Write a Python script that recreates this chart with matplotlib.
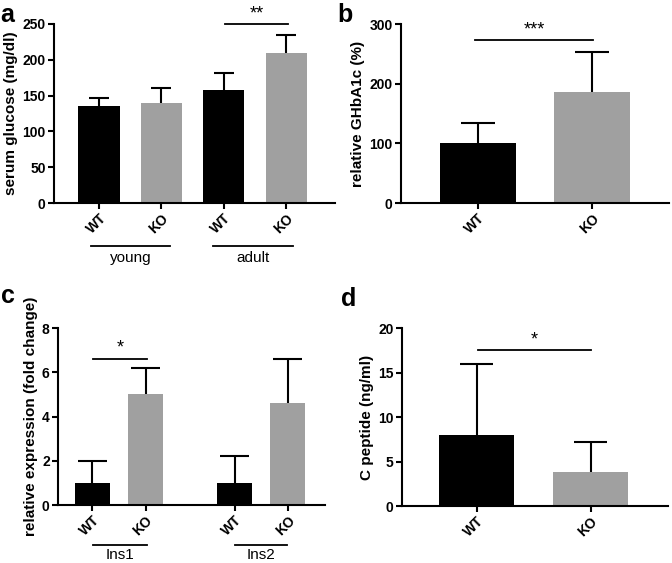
import matplotlib
matplotlib.use("Agg")
import matplotlib.pyplot as plt
import matplotlib.transforms as mtransforms
import numpy as np

plt.rcParams['font.family'] = ['Liberation Sans', 'DejaVu Sans']
plt.rcParams['font.weight'] = 'bold'
plt.rcParams['axes.labelweight'] = 'bold'
plt.rcParams['font.size'] = 10

BLACK = '#000000'
GRAY = '#a0a0a0'

# panel a: serum glucose
a_labels = ['WT', 'KO', 'WT', 'KO']
a_means = [135, 139, 158, 210]
a_err = [11, 22, 23, 24]
a_groups = ['young', 'adult']

# panel b: relative GHbA1c
b_labels = ['WT', 'KO']
b_means = [100, 187]
b_err = [34, 66]

# panel c: relative expression
c_labels = ['WT', 'KO', 'WT', 'KO']
c_pos = [0, 1, 2.68, 3.68]
c_means = [1.0, 5.0, 1.0, 4.6]
c_err = [1.0, 1.2, 1.2, 2.0]
c_groups = ['Ins1', 'Ins2']

# panel d: C peptide
d_labels = ['WT', 'KO']
d_means = [8.0, 3.85]
d_err = [8.0, 3.35]

fig = plt.figure(figsize=(6.72, 5.63), dpi=100)


def style_axes(ax):
    for s in ['top', 'right']:
        ax.spines[s].set_visible(False)
    for s in ['left', 'bottom']:
        ax.spines[s].set_linewidth(1.5)
    ax.tick_params(width=1.5, length=4, direction='out', labelsize=10, pad=2)
    for t in ax.get_xticklabels():
        t.set_rotation(45)
        t.set_ha('right')
        t.set_rotation_mode('anchor')


def draw_bars(ax, pos, means, err, colors, cap):
    pos = np.asarray(pos, dtype=float)
    top = np.asarray(means) + np.asarray(err)
    ax.bar(pos, means, width=0.66, color=colors, edgecolor='none', zorder=2)
    ax.vlines(pos, means, top, color='black', lw=1.5, zorder=1)
    ax.hlines(top, pos - cap, pos + cap, color='black', lw=1.5, zorder=1)


def sig(ax, x0, x1, y, text, dy):
    ax.plot([x0, x1], [y, y], color='black', lw=1.3, clip_on=False)
    ax.text((x0 + x1) / 2, y + dy, text, ha='center', va='bottom',
            fontsize=13, fontweight='normal', clip_on=False)


def group_line(ax, x0, x1, yline, ylab, text):
    tr = mtransforms.blended_transform_factory(ax.transData, ax.transAxes)
    ax.plot([x0, x1], [yline, yline], color='black', lw=1.3,
            transform=tr, clip_on=False)
    ax.text((x0 + x1) / 2, ylab, text, transform=tr, ha='center',
            va='center', fontsize=11, fontweight='normal')


# ---- a
ax = fig.add_axes([0.0804, 0.6394, 0.4181, 0.318])
pos = list(range(4))
draw_bars(ax, pos, a_means, a_err, [BLACK, GRAY, BLACK, GRAY], 0.16)
ax.set_xlim(-0.72, 3.78)
ax.set_ylim(0, 250)
ax.set_yticks([0, 50, 100, 150, 200, 250])
ax.set_xticks(pos)
ax.set_xticklabels(a_labels)
ax.set_ylabel('serum glucose (mg/dl)', fontsize=11, labelpad=3)
style_axes(ax)
sig(ax, 2.02, 3.02, 250, '**', 2)
group_line(ax, -0.12, 1.13, -0.24, -0.305, a_groups[0])
group_line(ax, 1.83, 3.1, -0.24, -0.305, a_groups[1])

# ---- b
ax = fig.add_axes([0.5967, 0.6394, 0.3988, 0.3176])
pos = [0, 1]
draw_bars(ax, pos, b_means, b_err, [BLACK, GRAY], 0.15)
ax.set_xlim(-0.67, 1.67)
ax.set_ylim(0, 300)
ax.set_yticks([0, 100, 200, 300])
ax.set_xticks(pos)
ax.set_xticklabels(b_labels)
ax.set_ylabel('relative GHbA1c (%)', fontsize=11, labelpad=3)
style_axes(ax)
sig(ax, -0.02, 1.01, 273, '***', 3)

# ---- c
ax = fig.add_axes([0.0863, 0.103, 0.3973, 0.3144])
draw_bars(ax, c_pos, c_means, c_err, [BLACK, GRAY, BLACK, GRAY], 0.27)
ax.set_xlim(-0.65, 4.38)
ax.set_ylim(0, 8)
ax.set_yticks([0, 2, 4, 6, 8])
ax.set_xticks(c_pos)
ax.set_xticklabels(c_labels)
ax.set_ylabel('relative expression (fold change)', fontsize=11, labelpad=3)
style_axes(ax)
sig(ax, 0.01, 1.02, 6.6, '*', 0.1)
group_line(ax, 0.01, 1.02, -0.226, -0.28, c_groups[0])
group_line(ax, 2.68, 3.66, -0.226, -0.28, c_groups[1])

# ---- d
ax = fig.add_axes([0.598, 0.101, 0.3958, 0.3164])
pos = [0, 1]
draw_bars(ax, pos, d_means, d_err, [BLACK, GRAY], 0.145)
ax.set_xlim(-0.66, 1.68)
ax.set_ylim(0, 20)
ax.set_yticks([0, 5, 10, 15, 20])
ax.set_xticks(pos)
ax.set_xticklabels(d_labels)
ax.set_ylabel('C peptide (ng/ml)', fontsize=11, labelpad=3)
style_axes(ax)
sig(ax, 0.01, 1.0, 17.5, '*', 0.25)

# panel letters
for x, y, s in [(0.0, 0.995, 'a'), (0.502, 0.995, 'b'),
                (0.002, 0.495, 'c'), (0.508, 0.49, 'd')]:
    fig.text(x, y, s, fontsize=18, fontweight='bold', va='top', ha='left')

fig.savefig('out.png', dpi=100)
